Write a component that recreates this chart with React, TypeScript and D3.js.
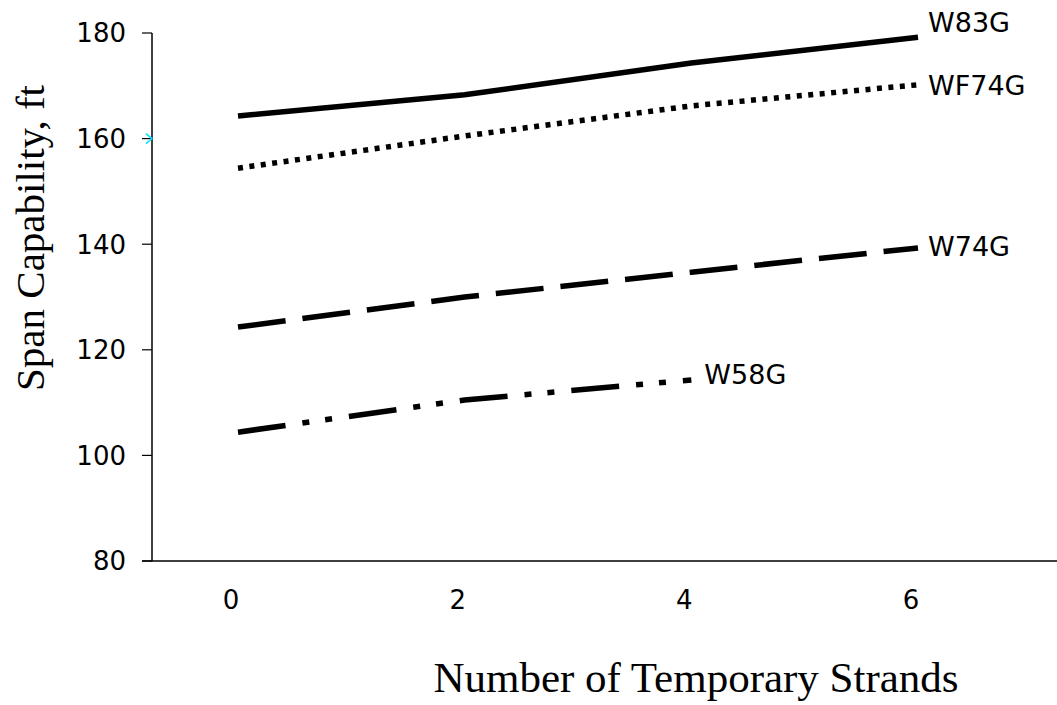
import * as d3 from "d3";

const strands = [0, 2, 4, 6];
const yTicks = [80, 100, 120, 140, 160, 180];
const w83g = [164.3, 168.3, 174.3, 179.2];
const wf74g = [154.4, 160.5, 166.2, 170.2];
const w74g = [124.3, 130.0, 134.7, 139.3];
const w58g = [104.4, 110.5, 114.3];

const series = [
  { name: "W83G", values: w83g, dash: null },
  { name: "WF74G", values: wf74g, dash: "5,6.5" },
  { name: "W74G", values: w74g, dash: "48,17" },
  { name: "W58G", values: w58g, dash: "48,17,7,16,7,17" },
];

// label nudges (px) relative to the last point of each line
const labelNudge: Record<string, [number, number]> = {
  W83G: [10, -15],
  WF74G: [10, 1],
  W74G: [10, -2],
  W58G: [13, -6],
};

const W = 1057;
const H = 705;
const tickFont = "'Comic Sans MS', 'DejaVu Sans', sans-serif";
const serif = "'Liberation Serif', 'Times New Roman', serif";

export default function App() {
  const x = d3.scaleLinear().domain([0, 6]).range([238, 918]);
  const y = d3.scaleLinear().domain([80, 180]).range([561, 33]);
  const axisX = 152;
  const line = d3
    .line<number>()
    .x((_, i) => x(strands[i]))
    .y((d) => y(d));

  return (
    <svg
      width={W}
      height={H}
      style={{ position: "absolute", left: 0, top: 0, background: "#fff" }}
    >
      {/* y axis */}
      <line x1={axisX} x2={axisX} y1={y(180)} y2={y(80)} stroke="#000" strokeWidth={1.5} />
      {yTicks.map((t) => (
        <g key={t}>
          <line x1={axisX - 10} x2={axisX} y1={y(t)} y2={y(t)} stroke="#000" strokeWidth={1.2} />
          <text
            x={126}
            y={y(t)}
            dy="0.36em"
            textAnchor="end"
            fontFamily={tickFont}
            fontSize={26}
          >
            {t}
          </text>
        </g>
      ))}
      {/* cyan marker at 160 */}
      <path
        d={`M${axisX - 6},${y(160) - 5} L${axisX},${y(160)} L${axisX - 6},${y(160) + 5}`}
        fill="none"
        stroke="#00e5ff"
        strokeWidth={1.5}
      />
      {/* x axis */}
      <line x1={axisX - 10} x2={W} y1={y(80)} y2={y(80)} stroke="#000" strokeWidth={1.5} />
      {strands.map((s) => (
        <text
          key={s}
          x={x(s) - 7}
          y={600}
          dy="0.36em"
          textAnchor="middle"
          fontFamily={tickFont}
          fontSize={26}
        >
          {s}
        </text>
      ))}
      {/* series */}
      {series.map((s) => {
        const last = s.values.length - 1;
        const [nx, ny] = labelNudge[s.name];
        return (
          <g key={s.name}>
            <path
              d={line(s.values) ?? ""}
              fill="none"
              stroke="#000"
              strokeWidth={5.5}
              strokeDasharray={s.dash ?? undefined}
            />
            <text
              x={x(strands[last]) + nx}
              y={y(s.values[last]) + ny}
              dy="0.36em"
              fontFamily={tickFont}
              fontSize={27}
            >
              {s.name}
            </text>
          </g>
        );
      })}
      {/* titles */}
      <text
        transform={`translate(44,238) rotate(-90)`}
        textAnchor="middle"
        fontFamily={serif}
        fontSize={41}
      >
        Span Capability, ft
      </text>
      <text x={696} y={692} textAnchor="middle" fontFamily={serif} fontSize={43}>
        Number of Temporary Strands
      </text>
    </svg>
  );
}
